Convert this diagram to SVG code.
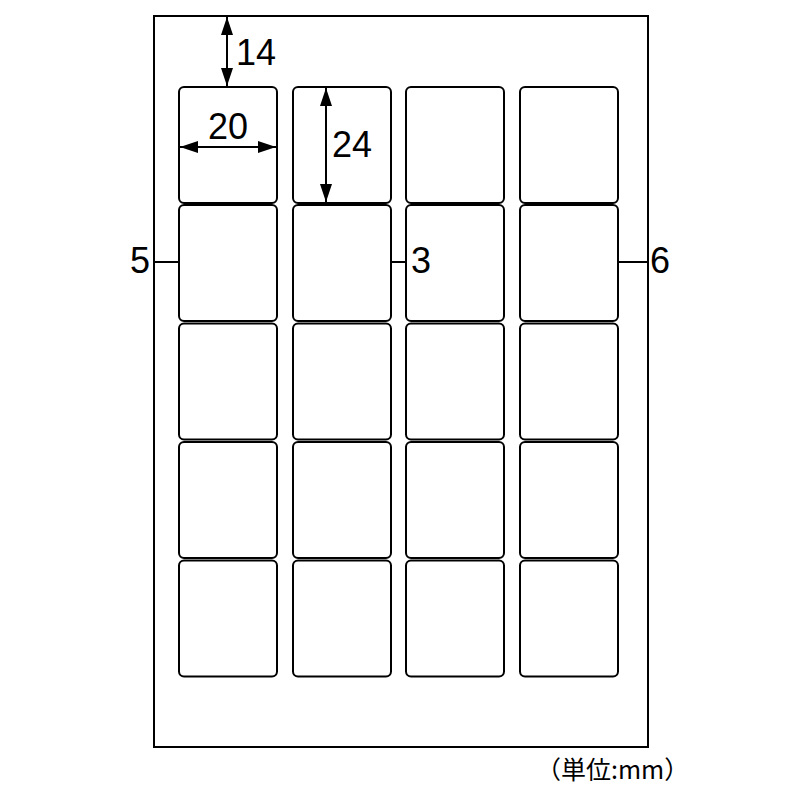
<svg xmlns="http://www.w3.org/2000/svg" width="800" height="800" viewBox="0 0 800 800">
<style>
.page{fill:#fff;stroke:#000;stroke-width:2}
.lbl{fill:#fff;stroke:#000;stroke-width:2}
.ln{stroke:#000;stroke-width:2;fill:none}
.t{font-family:"Liberation Sans",Arial,sans-serif;font-size:36px;fill:#000}
.u{font-family:"Noto Sans CJK JP","Noto Sans",sans-serif;font-size:25px;fill:#000}
</style>
<defs>
<marker id="ah" viewBox="0 0 18 12" refX="18" refY="6" markerWidth="18" markerHeight="12" markerUnits="userSpaceOnUse" orient="auto-start-reverse">
<path d="M0,0 L18,6 L0,12 Z" fill="#000"/>
</marker>
<rect id="cell" width="98" height="116" rx="5" class="lbl"/>
</defs>
<rect x="0" y="0" width="800" height="800" fill="#fff"/>
<g id="page"><rect class="page" x="154" y="16" width="494" height="731"/></g>
<g id="labels">
<use href="#cell" x="179" y="87"/><use href="#cell" x="293" y="87"/><use href="#cell" x="406" y="87"/><use href="#cell" x="520" y="87"/>
<use href="#cell" x="179" y="205"/><use href="#cell" x="293" y="205"/><use href="#cell" x="406" y="205"/><use href="#cell" x="520" y="205"/>
<use href="#cell" x="179" y="323.5"/><use href="#cell" x="293" y="323.5"/><use href="#cell" x="406" y="323.5"/><use href="#cell" x="520" y="323.5"/>
<use href="#cell" x="179" y="442"/><use href="#cell" x="293" y="442"/><use href="#cell" x="406" y="442"/><use href="#cell" x="520" y="442"/>
<use href="#cell" x="179" y="560.5"/><use href="#cell" x="293" y="560.5"/><use href="#cell" x="406" y="560.5"/><use href="#cell" x="520" y="560.5"/>
</g>
<g id="connectors">
<line class="ln" x1="227" y1="17" x2="227" y2="86" marker-start="url(#ah)" marker-end="url(#ah)"/>
<line class="ln" x1="180" y1="147" x2="276" y2="147" marker-start="url(#ah)" marker-end="url(#ah)"/>
<line class="ln" x1="326" y1="88" x2="326" y2="202" marker-start="url(#ah)" marker-end="url(#ah)"/>
<line class="ln" x1="154" y1="262" x2="179" y2="262"/>
<line class="ln" x1="391" y1="262" x2="406" y2="262"/>
<line class="ln" x1="618" y1="262" x2="648" y2="262"/>
</g>
<g id="texts">
<text class="t" x="236" y="65">14</text>
<text class="t" x="228" y="139" text-anchor="middle">20</text>
<text class="t" x="332" y="157">24</text>
<text class="t" x="150" y="273" text-anchor="end">5</text>
<text class="t" x="411" y="273">3</text>
<text class="t" x="650" y="273">6</text>
<text class="u" x="536" y="779">（単位:mm）</text>
</g>
</svg>
